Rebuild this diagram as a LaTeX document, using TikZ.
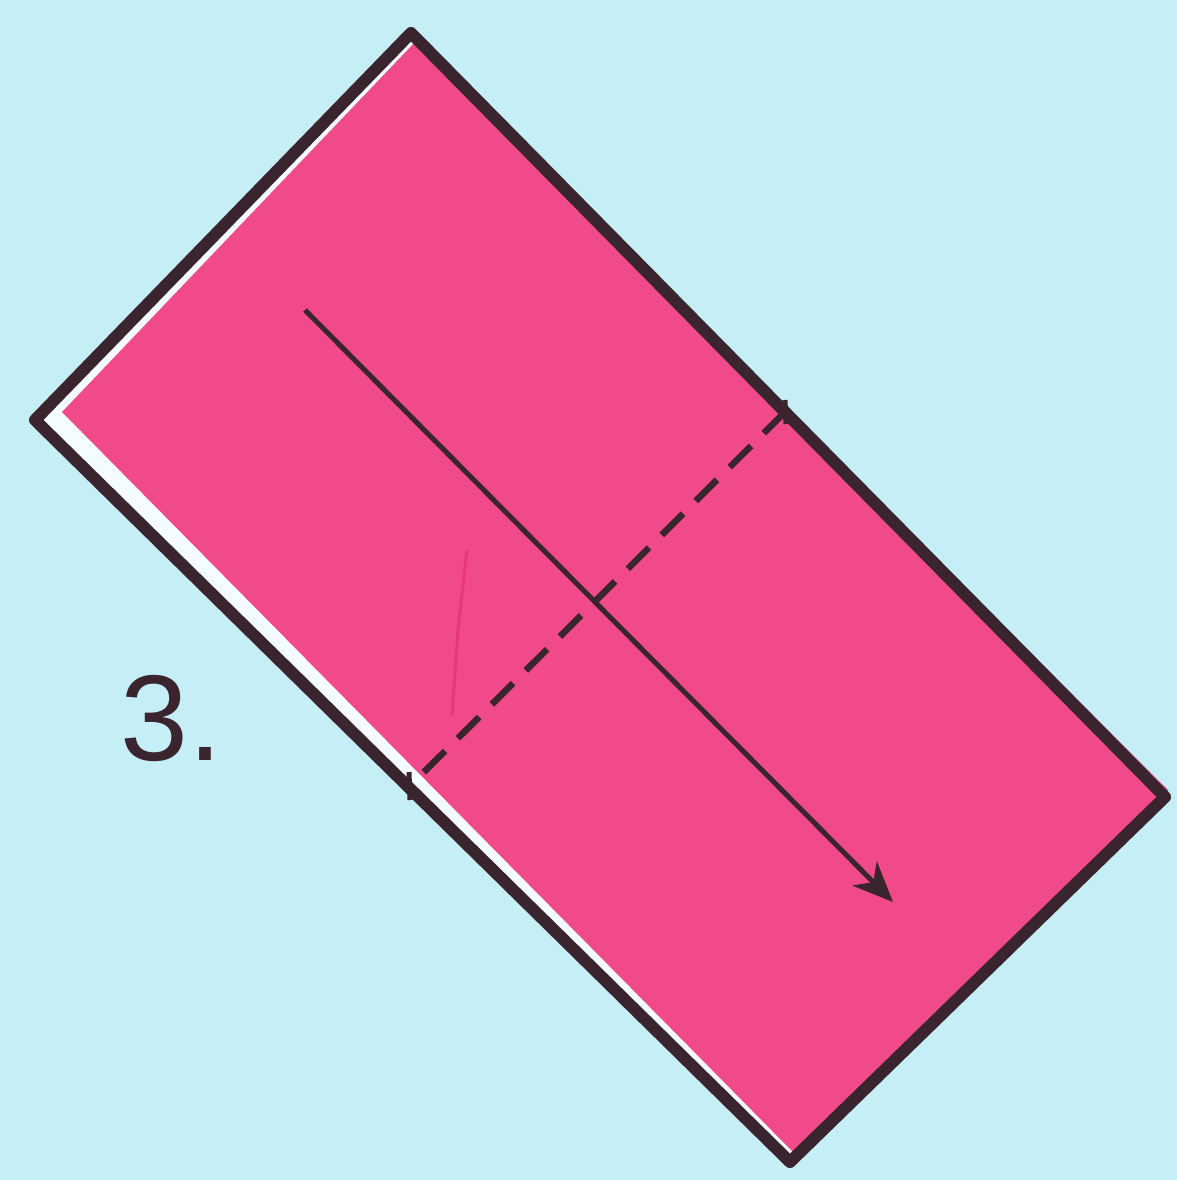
\documentclass[tikz,border=0pt]{standalone}
\usepackage{fontspec}
\setmainfont{Liberation Sans}
\usetikzlibrary{arrows.meta}
\definecolor{paperblue}{RGB}{198,238,246}
\definecolor{sheetpink}{RGB}{240,74,136}
\definecolor{creasepink}{RGB}{222,40,108}
\definecolor{inkdark}{RGB}{58,36,46}
\tikzset{
  sheetedge/.style={draw=inkdark,line width=12pt,line join=round},
  foldline/.style={draw=inkdark,line width=6.5pt,dash pattern=on 30pt off 18pt},
  movearrow/.style={draw=inkdark,line width=5pt,
    -{Stealth[length=40pt,width=34pt,inset=12pt]}},
}
\begin{document}
\begin{tikzpicture}[x=1pt,y=-1pt]
\fill[paperblue] (0,0) rectangle (1177,1180);
\useasboundingbox (0,0) rectangle (1177,1180);
% corners of the sheet
\coordinate (top) at (411,33);
\coordinate (left) at (35,420);
\coordinate (bottom) at (790,1162);
\coordinate (right) at (1165,797);
\fill[white!80!paperblue] (top) -- (left) -- (bottom) -- (right) -- cycle;
\fill[sheetpink] (417,40) -- (62,412) -- (793,1152) -- (1168,790) -- cycle;
\draw[creasepink,line width=3pt,opacity=0.5] (467,550) -- (458,630) -- (452,715);
\draw[sheetedge] (top) -- (left) -- (bottom) -- (right) -- cycle;
% fold line
\coordinate (foldA) at (785,412);
\coordinate (foldB) at (410,786);
\draw[foldline] (foldA) -- (foldB);
\draw[inkdark,line width=5pt] (785,400) -- (786,424);
\draw[inkdark,line width=5pt] (409,772) -- (410,800);
% arrow
\coordinate (start) at (305,310);
\coordinate (tip) at (893,902);
\draw[movearrow] (start) -- (tip);
\node[anchor=base west,inner sep=0pt,text=inkdark,
  font=\fontsize{122}{122}\selectfont] (step) at (120,760) {3.};
\end{tikzpicture}
\end{document}
